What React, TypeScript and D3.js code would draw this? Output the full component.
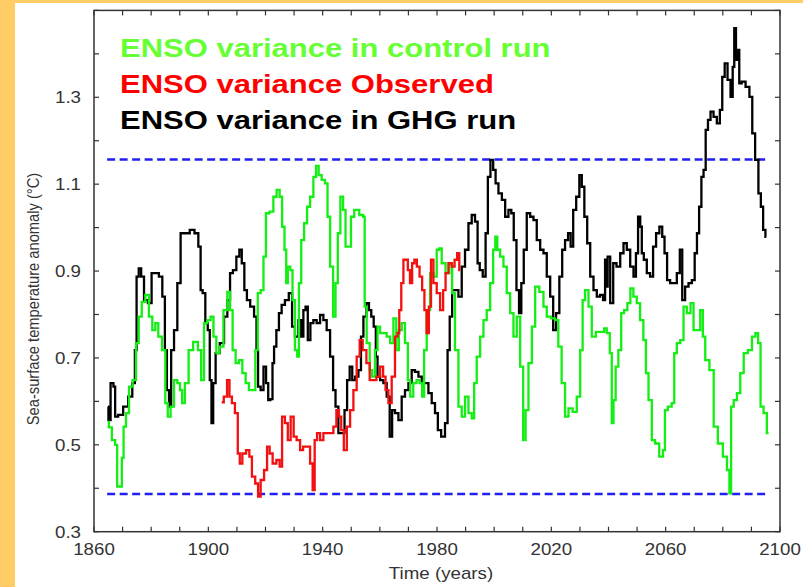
import React, { useEffect } from "react";
import * as d3 from "d3";

// ---- data (year, value) ----
const controlRun: [number, number][] = [
  [1864.9,0.553],[1865.5,0.54],[1867,0.511],[1867.8,0.5],[1868.4,0.404],[1869.5,0.404],[1870,0.47],[1870.7,0.542],[1871.7,0.573],[1872.8,0.634],[1874.2,0.649],[1875.2,0.734],[1876.1,0.795],[1877.3,0.829],[1878.6,0.845],[1879.8,0.795],[1881,0.764],[1881.9,0.78],[1883.1,0.749],[1884.5,0.718],[1885.4,0.596],[1886.2,0.565],[1887.4,0.588],[1888.6,0.649],[1889.7,0.642],[1890.5,0.626],[1891.2,0.596],[1892.4,0.642],[1893.8,0.718],[1895.6,0.737],[1897.1,0.718],[1897.9,0.649],[1899.1,0.78],[1900.2,0.787],[1901.4,0.795],[1902.2,0.749],[1903.4,0.711],[1904.5,0.726],[1906.1,0.81],[1907.2,0.852],[1908,0.81],[1909,0.718],[1910.1,0.688],[1911.3,0.695],[1912.5,0.665],[1913.6,0.642],[1914.8,0.626],[1916,0.626],[1916.9,0.718],[1917.7,0.849],[1918.9,0.856],[1919.7,0.933],[1920.6,1.033],[1922.2,1.037],[1923.3,1.071],[1924.5,1.087],[1925.4,1.071],[1926.2,1.002],[1927.1,0.949],[1927.4,0.872],[1928.2,0.91],[1929.2,0.902],[1929.7,0.833],[1930.9,0.718],[1931.3,0.703],[1932.1,0.872],[1932.9,0.971],[1934.1,1.01],[1935,1.048],[1936.2,1.071],[1937.3,1.117],[1938.1,1.142],[1939.1,1.121],[1940.2,1.11],[1941.4,1.102],[1942,1.025],[1943.2,0.91],[1944.1,0.795],[1944.9,0.872],[1945.7,0.987],[1946.7,1.071],[1947.6,1.041],[1948.4,0.956],[1949.6,0.956],[1950.2,1.025],[1951.9,1.041],[1953.7,1.029],[1954.6,1.025],[1954.8,0.818],[1956,0.734],[1956.9,0.672],[1957.7,0.657],[1958.9,0.718],[1959.5,0.772],[1960.7,0.757],[1961.8,0.757],[1963,0.749],[1964.2,0.734],[1965.3,0.791],[1966.2,0.718],[1967.1,0.764],[1968.2,0.78],[1969.4,0.734],[1970.2,0.649],[1971.1,0.611],[1972.3,0.642],[1973.4,0.649],[1974.4,0.642],[1975.2,0.611],[1975.8,0.718],[1977,0.81],[1978.2,0.895],[1979.3,0.887],[1980.5,0.949],[1981.1,0.952],[1982.2,0.918],[1983.8,0.895],[1984.9,0.918],[1985.7,0.849],[1986.9,0.718],[1988.1,0.588],[1989.2,0.565],[1990.4,0.611],[1991.6,0.573],[1992.7,0.561],[1993.3,0.642],[1994.5,0.703],[1995.7,0.749],[1996.8,0.787],[1998,0.81],[1999.2,0.872],[2000.1,0.949],[2000.7,0.979],[2001.5,0.949],[2002.7,0.933],[2003.8,0.91],[2005,0.849],[2006.2,0.803],[2007.3,0.749],[2008.5,0.795],[2009.7,0.68],[2010.6,0.511],[2011.4,0.58],[2012.6,0.688],[2013.8,0.772],[2014.9,0.864],[2016.7,0.852],[2017.8,0.818],[2019,0.795],[2020.7,0.791],[2021.9,0.787],[2023,0.726],[2024.2,0.642],[2025.4,0.565],[2026.6,0.584],[2028.3,0.576],[2029.5,0.611],[2030.7,0.718],[2031.2,0.833],[2032.4,0.856],[2033.6,0.818],[2034.7,0.749],[2036.5,0.76],[2038.2,0.76],[2038.8,0.768],[2040,0.757],[2040.9,0.711],[2041.4,0.55],[2042.1,0.603],[2042.9,0.68],[2044,0.718],[2044.9,0.803],[2046,0.81],[2047.2,0.826],[2048.1,0.86],[2049.3,0.841],[2050.5,0.826],[2051.6,0.787],[2052.8,0.741],[2053.4,0.665],[2054.6,0.603],[2055.7,0.511],[2056.9,0.503],[2058.6,0.473],[2059.5,0.488],[2060,0.58],[2061.5,0.588],[2062.7,0.596],[2063.3,0.711],[2064.5,0.734],[2065.7,0.741],[2066.8,0.818],[2068,0.803],[2069.4,0.826],[2070.1,0.764],[2071.5,0.764],[2072.7,0.81],[2073.3,0.749],[2074.4,0.695],[2076.2,0.672],[2077.4,0.542],[2079.1,0.503],[2080.9,0.473],[2082,0.442],[2082.6,0.388],[2083.2,0.588],[2084.4,0.603],[2085.5,0.619],[2086.7,0.665],[2087.9,0.711],[2089.6,0.718],[2090.8,0.749],[2092,0.757],[2092.7,0.734],[2093.7,0.588],[2094.8,0.573],[2096,0.527],
];

const observed: [number, number][] = [
  [1904.7,0.598],[1906.1,0.611],[1907,0.649],[1907.8,0.611],[1908.7,0.596],[1909.9,0.573],[1910.7,0.48],[1911.3,0.457],[1912.5,0.48],[1913.9,0.488],[1914.8,0.473],[1915.7,0.427],[1917.1,0.411],[1917.7,0.381],[1918.9,0.419],[1920.1,0.442],[1921,0.496],[1921.9,0.48],[1923.1,0.457],[1924.5,0.465],[1925.4,0.45],[1926.2,0.565],[1927.4,0.55],[1928.2,0.511],[1929.4,0.565],[1930.3,0.519],[1931.5,0.511],[1932.7,0.488],[1933.6,0.496],[1935,0.496],[1936.2,0.457],[1936.8,0.396],[1937.6,0.511],[1938.5,0.527],[1939.7,0.511],[1940.8,0.527],[1942,0.527],[1943.2,0.527],[1944.3,0.542],[1945.3,0.58],[1946.1,0.565],[1946.9,0.534],[1947.9,0.488],[1949,0.542],[1950.2,0.58],[1951.3,0.626],[1952.5,0.703],[1953.4,0.741],[1954.6,0.718],[1956,0.688],[1956.9,0.649],[1958.1,0.649],[1959.5,0.657],[1960.7,0.68],[1961.6,0.657],[1962.4,0.626],[1963.6,0.596],[1964.7,0.657],[1965.9,0.749],[1966.5,0.757],[1967.1,0.81],[1967.9,0.872],[1968.6,0.926],[1969.4,0.926],[1970.2,0.902],[1970.9,0.872],[1971.7,0.918],[1972.5,0.926],[1973.4,0.91],[1974.4,0.887],[1975.2,0.856],[1976,0.81],[1976.7,0.757],[1977.6,0.818],[1978.2,0.926],[1979.3,0.872],[1980.5,0.849],[1981.7,0.81],[1982.6,0.856],[1983.4,0.895],[1984.6,0.918],[1985.7,0.91],[1986.6,0.926],[1987.5,0.941],[1988.1,0.902],
];

const ghgRun: [number, number][] = [
  [1864.9,0.588],[1865.2,0.557],[1866.4,0.642],[1867.2,0.634],[1867.6,0.565],[1869.3,0.569],[1871.1,0.588],[1872.8,0.611],[1874,0.642],[1874.6,0.718],[1875.2,0.887],[1876.1,0.906],[1876.9,0.887],[1878.1,0.833],[1879.6,0.826],[1880.7,0.895],[1882.1,0.895],[1883.3,0.887],[1884.5,0.841],[1885.1,0.718],[1885.9,0.626],[1886.6,0.588],[1887.4,0.718],[1888.6,0.764],[1889.7,0.872],[1890.9,0.987],[1892.6,0.987],[1894.4,0.995],[1895.9,0.987],[1897.1,0.956],[1897.5,0.856],[1898.5,0.849],[1899.4,0.78],[1900.2,0.764],[1900.8,0.649],[1901.4,0.55],[1902,0.642],[1903.1,0.711],[1904.9,0.734],[1906.1,0.795],[1907.2,0.833],[1908,0.895],[1909.2,0.902],[1910.4,0.933],[1911.3,0.949],[1912.1,0.918],[1913.1,0.856],[1913.9,0.833],[1915.4,0.818],[1916.6,0.795],[1917.1,0.718],[1917.7,0.634],[1918.9,0.626],[1919.7,0.68],[1920.7,0.642],[1921.2,0.603],[1922.2,0.605],[1922.7,0.688],[1923.3,0.726],[1924.3,0.764],[1925.1,0.803],[1926.2,0.822],[1927.4,0.833],[1928.9,0.849],[1929.7,0.772],[1930.9,0.749],[1932.1,0.787],[1932.9,0.749],[1933.6,0.81],[1934.4,0.818],[1935.2,0.741],[1936.2,0.78],[1937.3,0.787],[1938.5,0.78],[1939.7,0.799],[1940.8,0.787],[1942,0.764],[1943.2,0.703],[1944.1,0.626],[1944.9,0.588],[1946.1,0.527],[1947.2,0.527],[1948.1,0.58],[1949,0.649],[1949.9,0.68],[1950.8,0.649],[1951.9,0.657],[1953.1,0.672],[1953.7,0.749],[1954.8,0.795],[1955.8,0.826],[1956.6,0.81],[1957.4,0.795],[1958.3,0.772],[1958.9,0.703],[1959.5,0.657],[1960.7,0.649],[1961.8,0.642],[1963,0.611],[1963.9,0.519],[1964.7,0.58],[1965.9,0.573],[1967.1,0.557],[1968.2,0.611],[1969.4,0.626],[1970.6,0.642],[1971.7,0.672],[1972.9,0.668],[1974.1,0.657],[1975.2,0.642],[1976.4,0.642],[1977.6,0.619],[1978.7,0.596],[1979.9,0.573],[1980.7,0.534],[1982.2,0.519],[1983.4,0.55],[1984,0.718],[1984.9,0.795],[1985.7,0.856],[1986.9,0.856],[1988.1,0.841],[1989.2,0.91],[1990.4,0.949],[1991.6,1.01],[1992.7,1.029],[1993.9,1.014],[1994.5,0.918],[1995.4,0.902],[1996.6,0.887],[1997.4,0.987],[1998.2,1.117],[1999.2,1.156],[2000.1,1.133],[2000.9,1.102],[2002.1,1.079],[2003.3,1.064],[2004.4,1.025],[2005.6,1.041],[2006.4,1.033],[2007.3,0.971],[2008.3,0.856],[2009.1,0.803],[2009.9,0.872],[2010.8,0.949],[2012,1.033],[2013.2,1.025],[2014.3,1.017],[2015.5,0.971],[2016.7,0.949],[2017.8,0.941],[2019,0.887],[2020.2,0.841],[2021.1,0.764],[2022.2,0.803],[2023.4,0.887],[2024.2,0.949],[2025.4,0.971],[2026.3,0.987],[2027.2,0.956],[2028.1,1.041],[2029.3,1.071],[2030.3,1.121],[2031,1.094],[2032.1,1.025],[2033,0.964],[2034.2,0.887],[2035.3,0.856],[2036.5,0.841],[2037.6,0.845],[2038.6,0.833],[2039,0.926],[2039.4,0.864],[2040,0.933],[2041.2,0.826],[2042.1,0.918],[2043.5,0.91],[2044.7,0.941],[2045.8,0.964],[2047,0.949],[2048.2,0.91],[2049.3,0.887],[2049.9,0.941],[2050.8,1.025],[2051.4,1.002],[2051.9,0.941],[2052.8,0.926],[2054,0.895],[2055.1,0.887],[2056.1,0.956],[2057.2,0.987],[2058.4,1.002],[2059.2,0.979],[2060,0.941],[2061,0.879],[2062.1,0.872],[2063.3,0.872],[2064.5,0.895],[2065.4,0.949],[2066.2,0.833],[2067.4,0.864],[2068.6,0.872],[2069.7,0.879],[2070.6,0.941],[2071.3,0.987],[2072.1,1.048],[2072.9,1.117],[2073.6,1.133],[2074.4,1.225],[2075.2,1.248],[2076.2,1.267],[2077.3,1.255],[2078.5,1.24],[2079.4,1.271],[2080.2,1.347],[2081.1,1.378],[2082.2,1.34],[2083.2,1.301],[2083.7,1.37],[2084.3,1.459],[2084.9,1.386],[2085.5,1.409],[2086,1.332],[2087.2,1.336],[2088.7,1.324],[2089.9,1.301],[2090.7,1.217],[2091.9,1.156],[2093,1.079],[2093.6,1.048],[2094.6,0.995],[2095.2,0.979],
];

const thresholdLevels = [1.157, 0.387];
const thresholdSpan = [1864.6, 2095];

const xTickValues = d3.range(1860, 2101, 10);
const xTickLabels = [1860, 1900, 1940, 1980, 2020, 2060, 2100];
const yTickValues = d3.range(3, 16).map((i) => i / 10);
const yTickLabels = ["0.3", "0.5", "0.7", "0.9", "1.1", "1.3"];

const legendItems = [
  { text: "ENSO variance in control run", color: "#66FF33" },
  { text: "ENSO variance Observed", color: "#FF0000" },
  { text: "ENSO variance in GHG run", color: "#000000" },
];

const W = 803;
const H = 587;
const FONT = "Arial, 'Liberation Sans', Helvetica, sans-serif";
const SX = 1.17; // horizontal stretch of the source picture

function SText({ x, y, children, ...rest }: any) {
  return (
    <g transform={`translate(${x},${y}) scale(${SX},1)`}>
      <text x={0} y={0} {...rest}>
        {children}
      </text>
    </g>
  );
}

export default function App() {
  useEffect(() => {
    document.body.style.margin = "0";
  }, []);

  const x = d3.scaleLinear().domain([1860, 2100]).range([94, 780]);
  const y = d3.scaleLinear().domain([0.3, 1.5]).range([531.7, 10.4]);
  const line = d3
    .line<[number, number]>()
    .x((d) => x(d[0]))
    .y((d) => y(d[1]))
    .curve(d3.curveStep);

  const [x0, x1] = x.range();
  const [yb, yt] = y.range();
  const tickLen = 5;
  const axisColor = "#333";
  const sw = 2.3;

  return (
    <svg
      width={W}
      height={H}
      style={{ position: "absolute", left: 0, top: 0, display: "block" }}
      fontFamily={FONT}
    >
      <rect x={0} y={0} width={W} height={H} fill="#FFCC66" />
      <rect x={15} y={3} width={W - 15} height={H - 3} fill="#FFFFFF" />

      {/* threshold lines */}
      {thresholdLevels.map((v, i) => (
        <line
          key={i}
          x1={x(thresholdSpan[0])}
          x2={x(thresholdSpan[1])}
          y1={y(v)}
          y2={y(v)}
          stroke="#1F1FF0"
          strokeWidth={2.5}
          strokeDasharray="8,4.5"
        />
      ))}

      {/* series */}
      <path d={line(ghgRun) || ""} fill="none" stroke="#000" strokeWidth={sw} />
      <path d={line(controlRun) || ""} fill="none" stroke="#14EE14" strokeWidth={sw} />
      <path d={line(observed) || ""} fill="none" stroke="#F21010" strokeWidth={sw} />

      {/* frame */}
      <rect x={x0} y={yt} width={x1 - x0} height={yb - yt} fill="none" stroke={axisColor} strokeWidth={1.5} />

      {/* x ticks */}
      {xTickValues.map((t) => (
        <g key={"xt" + t}>
          <line x1={x(t)} x2={x(t)} y1={yb} y2={yb - tickLen} stroke={axisColor} strokeWidth={1.2} />
          <line x1={x(t)} x2={x(t)} y1={yt} y2={yt + tickLen} stroke={axisColor} strokeWidth={1.2} />
        </g>
      ))}
      {xTickLabels.map((t) => (
        <SText key={"xl" + t} x={x(t)} y={555} textAnchor="middle" fontSize={16} fill="#333">
          {t}
        </SText>
      ))}

      {/* y ticks */}
      {yTickValues.map((t) => (
        <g key={"yt" + t}>
          <line x1={x0} x2={x0 + tickLen} y1={y(t)} y2={y(t)} stroke={axisColor} strokeWidth={1.2} />
          <line x1={x1} x2={x1 - tickLen} y1={y(t)} y2={y(t)} stroke={axisColor} strokeWidth={1.2} />
        </g>
      ))}
      {yTickLabels.map((t) => (
        <SText key={"yl" + t} x={81} y={y(+t) + 5.8} textAnchor="end" fontSize={16} fill="#333">
          {t}
        </SText>
      ))}

      {/* axis titles */}
      <SText x={441} y={579} textAnchor="middle" fontSize={16} fill="#333">
        Time (years)
      </SText>
      <g transform={`translate(39,299) rotate(-90) scale(1,${SX})`}>
        <text x={0} y={0} textAnchor="middle" fontSize={14.7} fill="#333">
          Sea-surface temperature anomaly (°C)
        </text>
      </g>

      {/* legend */}
      {legendItems.map((it, i) => (
        <SText key={it.text} x={120} y={56.7 + i * 36} fontSize={26.5} fontWeight="bold" fill={it.color}>
          {it.text}
        </SText>
      ))}
    </svg>
  );
}
